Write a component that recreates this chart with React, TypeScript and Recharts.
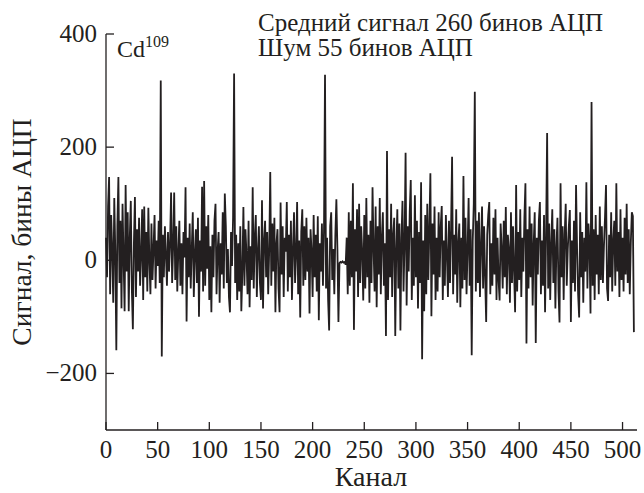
import React from 'react'
import { LineChart, Line, XAxis, YAxis } from 'recharts'

const INK = '#231f20'
const FONT = 'Liberation Serif'

// signal per channel in 64-channel blocks
const block0 = [
  40, -30, 95, 147, -60, 80, 20, -75, 110, 15, -159, 60, 147, -40, 70, -85,
  100, 5, -90, 133, -20, 85, -90, 40, 105, -50, -122, 30, 112, -65, 55, -20,
  75, -45, 10, 90, -70, 95, -30, 50, -55, 93, 0, -60, 65, -35, 20, 80,
  -50, 35, -10, 70, -40, 318, -170, 45, -30, 60, 10, -45, 50, -20, 30, 120,
]
const block1 = [
  -40, 25, 120, -35, 60, -55, 15, 70, -45, 30, -60, 50, 5, 129, -108, 40,
  -30, 65, -50, 20, 85, -65, 10, 55, -40, 75, -100, 35, -20, 130, -55, 140,
  -45, 60, -15, 80, -70, 25, -92, 45, -30, 70, 100, -60, 15, 50, -75, 30,
  -25, 85, -50, 118, 60, -40, 20, -65, -92, 50, -10, 75, 330, -40, 45, -70,
]
const block2 = [
  30, -55, 60, -90, -20, 94, -45, 55, 10, -60, 70, -83, 25, -35, 129, -50,
  40, 80, -65, 15, 60, -40, -70, 106, -85, 35, 70, -30, 50, -60, 20, 156,
  -45, 65, -20, 75, -92, 30, 55, -50, -92, 102, -25, 60, -65, 40, 15, 103,
  -55, 45, -30, 70, -70, 20, 85, -40, 10, 103, -60, 35, -101, 50, 90, -45,
]
const block3 = [
  60, -35, 75, -20, 40, -94, 55, 15, -65, 80, -30, 45, -55, 78, -106, 30,
  -20, 65, -45, 50, 328, -50, 40, -70, -124, 60, 85, -35, 20, -60, 45, 108,
  20, -109, -5, -3, -4, -2, -4, -3, -8, 40, -60, 85, -45, 70, -30, 136,
  -123, 55, -20, 90, -65, 100, -40, 60, 15, -71, 80, -50, 110, -30, 45, -75,
]
const block4 = [
  70, -40, 129, 20, -55, 95, -83, 60, -25, 110, -60, 40, 85, -45, 30, -134,
  193, -70, 55, -30, 100, -65, 45, 75, -134, 20, 90, -50, 65, -124, 40, 105,
  -55, 30, 190, -80, 60, -20, 85, 142, -70, 40, -45, 115, -30, 70, -85, 50,
  -40, 138, -175, 35, -90, 80, -60, 100, -35, 55, 154, -99, 65, -25, 95, -70,
]
const block5 = [
  40, -55, 85, -30, 60, 96, -70, 35, -45, 80, 10, -65, 70, -40, 55, 183,
  -60, 45, -25, 90, -75, 30, 65, -83, 40, -50, 149, -35, 75, -60, 20, 110,
  -45, 55, -168, 35, 100, 298, -55, 70, -40, 85, -65, 25, 95, -50, 60, -30,
  -109, 45, 80, 103, -60, 30, -45, 75, -25, 90, -70, 40, -35, -71, 65, 20,
]
const block6 = [
  -50, 70, -30, 94, -60, 45, 20, -75, 85, -40, 60, -20, -92, 133, -55, 50,
  -35, 90, -65, 40, -20, 75, 136, -147, 55, -50, 95, -30, 65, -80, 30, 85,
  -146, 40, -25, 70, 103, -60, 35, -45, 80, -92, 45, 225, -50, 65, -70, 30,
  90, -40, 55, -85, 25, 75, -55, -110, 136, -30, 60, -70, 45, 100, -45, 20,
]
const block7 = [
  60, 89, -109, 35, -40, 70, -55, 133, 20, -60, -101, 85, -30, 50, -75, 40,
  -20, 138, -50, 65, 30, -94, 280, -45, 55, -70, 80, -25, 45, -60, 95, -35,
  60, -40, 25, 75, 133, -50, -72, 45, -30, 85, -55, 35, 70, -45, 136, -20,
  50, -65, 90, -35, 40, -55, 75, -25, 100, -40, 55, -60, 30, 85, 78, -127,
]

const xTicks = [0, 50, 100, 150, 200, 250, 300, 350, 400, 450, 500]
const yTicks = [-200, 0, 200, 400]

const signal = [...block0, ...block1, ...block2, ...block3, ...block4, ...block5, ...block6, ...block7]
const data = signal.map((v, ch) => ({ ch, v }))

const fmt = (n: number) => String(n).replace('-', '\u2212')

// ticks point inward, labels outside
function XTick({ x, y, payload }: any) {
  return (
    <g>
      <line x1={x} y1={y} x2={x} y2={y - 8} stroke={INK} strokeWidth={1.3} />
      <text x={x} y={y + 28} textAnchor="middle" fontSize={25} fontFamily={FONT} fill={INK}>
        {fmt(payload.value)}
      </text>
    </g>
  )
}

function YTick({ x, y, payload }: any) {
  return (
    <g>
      <line x1={x} y1={y} x2={x + 8} y2={y} stroke={INK} strokeWidth={1.3} />
      <text x={x - 9} y={y + 8} textAnchor="end" fontSize={25} fontFamily={FONT} fill={INK}>
        {fmt(payload.value)}
      </text>
    </g>
  )
}

export default function App() {
  return (
    <div style={{ position: 'absolute', left: 0, top: 0, width: 644, height: 493, background: '#fff' }}>
      <LineChart width={644} height={493} data={data} margin={{ top: 34, right: 7, bottom: 23, left: 0 }}>
        <XAxis
          type="number"
          dataKey="ch"
          domain={[0, 514]}
          ticks={xTicks}
          interval={0}
          height={40}
          tickSize={0}
          tickMargin={0}
          tickLine={false}
          axisLine={{ stroke: INK, strokeWidth: 1.3 }}
          tick={<XTick />}
        />
        <YAxis
          type="number"
          domain={[-300, 400]}
          ticks={yTicks}
          interval={0}
          width={106}
          tickSize={0}
          tickMargin={0}
          tickLine={false}
          axisLine={{ stroke: INK, strokeWidth: 1.3 }}
          tick={<YTick />}
        />
        <Line
          type="linear"
          dataKey="v"
          stroke={INK}
          strokeWidth={1.8}
          dot={false}
          isAnimationActive={false}
        />
      </LineChart>
      <svg width={644} height={493} style={{ position: 'absolute', left: 0, top: 0, pointerEvents: 'none' }}>
        <text x={258} y={31} fontSize={25} fontFamily={FONT} fill={INK}>Средний сигнал 260 бинов АЦП</text>
        <text x={258} y={56} fontSize={25} fontFamily={FONT} fill={INK}>Шум 55 бинов АЦП</text>
        <text x={117} y={57} fontSize={24} fontFamily={FONT} fill={INK}>
          Cd<tspan dy={-10} fontSize={16}>109</tspan>
        </text>
        <text x={371} y={486} textAnchor="middle" fontSize={28} fontFamily={FONT} fill={INK}>Канал</text>
        <text x={31} y={232} textAnchor="middle" transform="rotate(-90 31 232)" fontSize={27.5} fontFamily={FONT} fill={INK}>
          Сигнал, бины АЦП
        </text>
      </svg>
    </div>
  )
}
